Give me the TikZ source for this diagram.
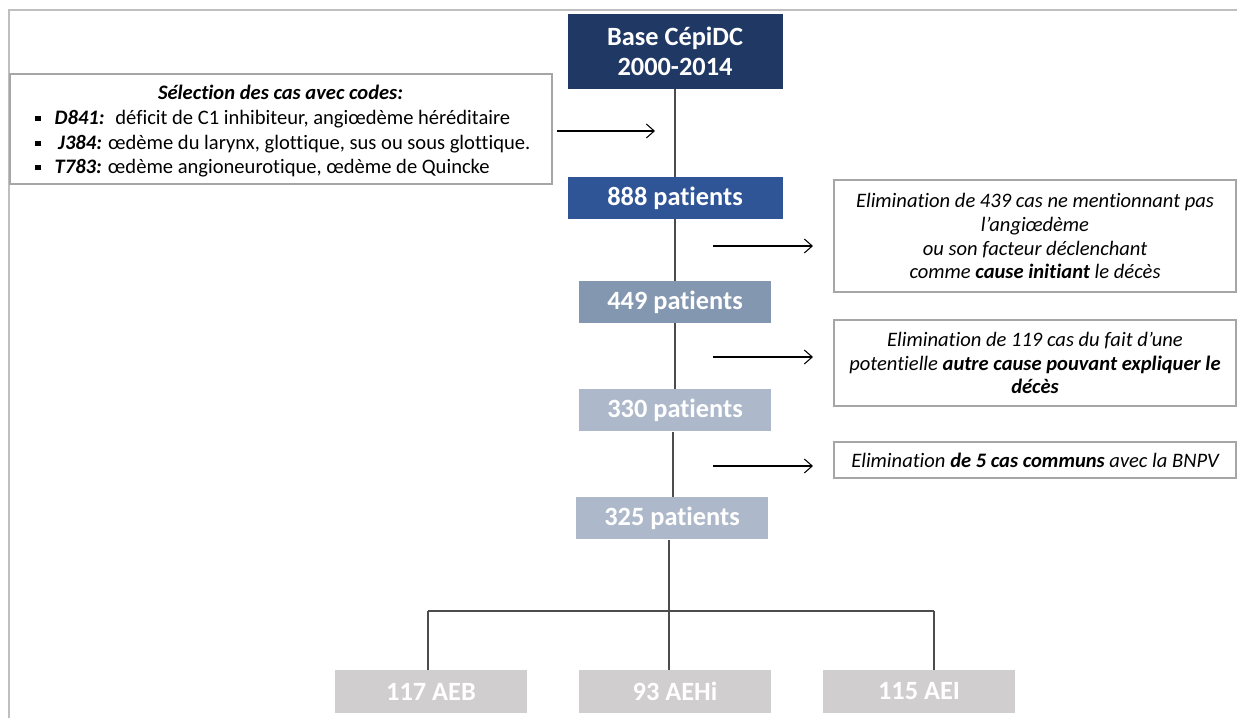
\documentclass[tikz,border=0pt]{standalone}
\usepackage{fontspec}
\setmainfont{Carlito}[Ligatures=NoCommon]
\usetikzlibrary{arrows.meta, positioning}

\definecolor{cepinavy}{HTML}{203864}
\definecolor{stepblue}{HTML}{2F5597}
\definecolor{stepslate}{HTML}{8497B0}
\definecolor{steplight}{HTML}{ADB9CA}
\definecolor{groupgray}{HTML}{D0CECE}
\definecolor{boxline}{HTML}{A6A6A6}
\definecolor{framegray}{HTML}{BFBFBF}

\newcommand{\selbullet}{\rule[2pt]{3pt}{3pt}\hspace{8pt}}

\tikzset{
  countbox/.style={text=white, font=\fontsize{15}{17}\selectfont\bfseries, align=center, inner sep=0pt, minimum height=0.84cm},
  notebox/.style={draw=boxline, line width=0.6pt, fill=white, align=center, inner sep=0pt, font=\fontsize{11.7}{13.6}\selectfont\itshape},
  seltext/.style={inner sep=0pt, font=\fontsize{11.7}{13.6}\selectfont},
  link/.style={draw=black!70, line width=0.6pt},
  flowarrow/.style={-{Straight Barb[length=4.5pt,width=8pt]}, line width=0.6pt}
}

\begin{document}
\begin{tikzpicture}
		% Frame of the slide
		\useasboundingbox (0,0) rectangle (24.74,-14.36);
		\draw[framegray, line width=1.1pt] (0.18,-14.36) -- (0.18,-0.2) -- (24.74,-0.2);
		
		% Main column of counts
		\node[countbox, fill=cepinavy, minimum width=4.3cm, minimum height=1.5cm] (base) at (13.5,-1.03) {Base CépiDC\\2000-2014};
		\node[countbox, fill=stepblue, minimum width=4.3cm] (p888) at (13.5,-3.96) {888 patients};
		\node[countbox, fill=stepslate, minimum width=3.84cm] (p449) at (13.5,-6.04) {449 patients};
		\node[countbox, fill=steplight, minimum width=3.84cm] (p330) at (13.5,-8.21) {330 patients};
		\node[countbox, fill=steplight, minimum width=3.84cm] (p325) at (13.44,-10.37) {325 patients};
		
		% Groups at the bottom
		\node[countbox, fill=groupgray, minimum width=3.84cm, minimum height=0.86cm] (aeb) at (8.62,-13.83) {117 AEB};
		\node[countbox, fill=groupgray, minimum width=3.84cm, minimum height=0.86cm] (aehi) at (13.5,-13.83) {93 AEHi};
		\node[countbox, fill=groupgray, minimum width=3.84cm, minimum height=0.86cm] (aei) at (18.38,-13.83) {115 AEI};
		
		% Selection box on the left
		\node[draw=boxline, line width=0.6pt, minimum width=10.84cm, minimum height=2.2cm] (sel) at (5.62,-2.58) {};
		\node[seltext, anchor=base] (seltitle) at (5.61,-2.0) {\textbf{\textit{Sélection des cas avec codes:}}};
		\node[seltext, anchor=base west] (d841) at (0.7,-2.49) {\selbullet\textbf{\textit{D841:}}~ déficit de C1 inhibiteur, angiœdème héréditaire};
		\node[seltext, anchor=base west] (j384) at (0.7,-2.99) {\selbullet\hspace{2pt}\textbf{\textit{J384:}} œdème du larynx, glottique, sus ou sous glottique.};
		\node[seltext, anchor=base west] (t783) at (0.7,-3.48) {\selbullet\textbf{\textit{T783:}} œdème angioneurotique, œdème de Quincke};
		
		% Elimination boxes on the right
		\node[notebox, minimum width=8.04cm, minimum height=2.24cm] (elim439) at (20.7,-4.72) {Elimination de 439 cas ne mentionnant pas\\l’angiœdème\\ou son facteur déclenchant\\comme \textbf{cause initiant} le décès};
		\node[notebox, minimum width=8.04cm, minimum height=1.72cm] (elim119) at (20.7,-7.26) {Elimination de 119 cas du fait d’une\\potentielle \textbf{autre cause pouvant expliquer le}\\\textbf{décès}};
		\node[notebox, minimum width=8.04cm, minimum height=0.72cm] (elim5) at (20.7,-9.2) {Elimination \textbf{de 5 cas communs} avec la BNPV};
		
		% Vertical links of the main column
		\draw[link] (base) -- (p888);
		\draw[link] (p888) -- (p449);
		\draw[link] (p449) -- (p330);
		\draw[link] ([xshift=-0.04cm]p330.south) -- ([xshift=-0.04cm]p330.south |- p325.north);
		
		% Split into the three groups
		\coordinate (fork) at (13.38,-12.22);
		\coordinate (forkl) at (8.56,-12.22);
		\coordinate (forkr) at (18.68,-12.22);
		\draw[link] (p325.south -| fork) -- (fork);
		\draw[link] (forkl) -- (forkr);
		\draw[link] (forkl) -- (forkl |- aeb.north);
		\draw[link] (fork) -- (fork |- aehi.north);
		\draw[link] (forkr) -- (forkr |- aei.north);
		
		% Arrows
		\coordinate (selout) at (11.14,-2.62);
		\coordinate (selin) at (13.1,-2.62);
		\coordinate (cut1a) at (14.26,-4.92);
		\coordinate (cut1b) at (16.26,-4.92);
		\coordinate (cut2a) at (14.26,-7.14);
		\coordinate (cut2b) at (16.26,-7.14);
		\coordinate (cut3a) at (14.26,-9.32);
		\coordinate (cut3b) at (16.26,-9.32);
		\draw[flowarrow] (selout) -- (selin);
		\draw[flowarrow] (cut1a) -- (cut1b);
		\draw[flowarrow] (cut2a) -- (cut2b);
		\draw[flowarrow] (cut3a) -- (cut3b);
\end{tikzpicture}
\end{document}
